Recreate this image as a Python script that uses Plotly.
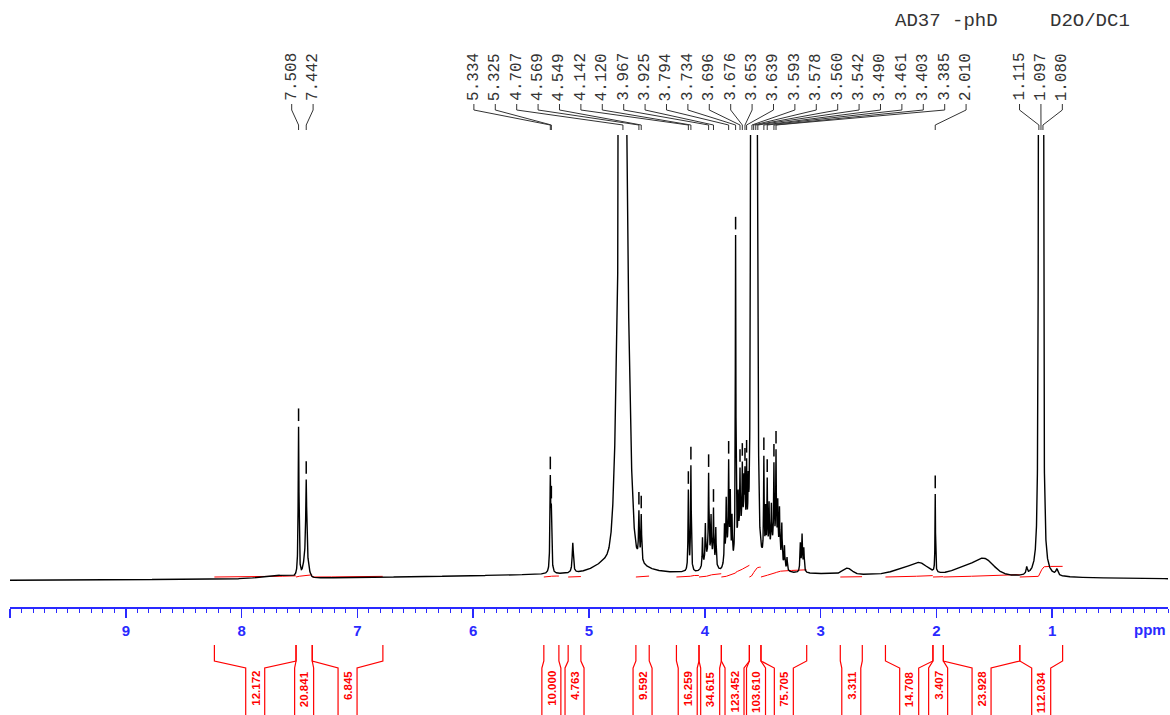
import numpy as np
import plotly.graph_objects as go

# ---------------- data ----------------
# sharp Lorentzian lines: position (ppm), height, half width (ppm)
line_ppm = [7.508, 7.442, 5.334, 5.325, 5.140, 4.707, 4.569, 4.549,
            4.142, 4.120, 4.020, 3.995, 3.967, 3.946, 3.925, 3.905,
            3.830, 3.815, 3.794, 3.780, 3.765, 3.734,
            3.712, 3.696, 3.676, 3.662, 3.653, 3.639, 3.625,
            3.603, 3.593, 3.586, 3.578, 3.569, 3.560, 3.551, 3.542,
            3.490, 3.475, 3.461, 3.445, 3.425, 3.403, 3.385, 3.370, 3.355, 3.335, 3.312, 3.290,
            3.175, 3.160, 3.145,
            2.010, 1.220, 1.115, 1.106, 1.097, 1.089, 1.080, 0.960]
line_height = [150, 80, 90, 55, 30, 2500, 46, 46,
               80, 105, 28, 35, 80, 38, 50, 36,
               34, 52, 85, 58, 40, 320,
               45, 60, 60, 45, 55, 68, 45,
               600, 1200, 1000, 1500, 1200, 1200, 800, 300,
               98, 45, 72, 45, 40, 78, 92, 45, 44, 36, 20, 12,
               28, 36, 23,
               78, 7, 1200, 700, 2200, 700, 1200, 6]
line_width = [0.004, 0.005, 0.004, 0.004, 0.006, 0.008, 0.004, 0.004,
              0.0035, 0.0035, 0.003, 0.003, 0.003, 0.003, 0.003, 0.003,
              0.003, 0.003, 0.003, 0.003, 0.003, 0.003,
              0.003, 0.003, 0.003, 0.003, 0.003, 0.003, 0.003,
              0.003, 0.003, 0.003, 0.003, 0.003, 0.003, 0.003, 0.003,
              0.003, 0.003, 0.003, 0.003, 0.003, 0.003, 0.003, 0.003, 0.003, 0.003, 0.003, 0.003,
              0.004, 0.004, 0.004,
              0.0025, 0.006, 0.003, 0.003, 0.003, 0.003, 0.003, 0.01]

# broad Gaussian components: centre (ppm), height, sigma (ppm)
broad_ppm = [7.70, 7.445, 4.707, 4.750, 3.960, 3.800, 3.680, 3.400, 2.770, 2.220, 2.140, 1.680, 1.580]
broad_height = [3, 18, 400, 12, 18, 22, 38, 26, 6, 8, 6, 11, 9]
broad_sigma = [0.12, 0.02, 0.04, 0.15, 0.04, 0.025, 0.035, 0.05, 0.04, 0.13, 0.06, 0.15, 0.07]

# rolling baseline: centre, height, half width
baseline_ppm = [4.0]
baseline_height = [9]
baseline_width = [3.0]

# picked peaks
peak_labels = ["7.508", "7.442",
               "5.334", "5.325", "4.707", "4.569", "4.549", "4.142", "4.120", "3.967",
               "3.925", "3.794", "3.734", "3.696", "3.676", "3.653", "3.639", "3.593",
               "3.578", "3.560", "3.542", "3.490", "3.461", "3.403", "3.385", "2.010",
               "1.115", "1.097", "1.080"]

# integrals
int_start = [8.235, 7.53, 7.39, 5.39, 5.18, 4.595, 4.245, 4.05, 3.857, 3.615, 3.515, 2.83, 2.44, 2.03, 1.94, 1.28]
int_end = [7.53, 7.39, 6.78, 5.26, 5.07, 4.48, 4.05, 3.857, 3.615, 3.515, 3.12, 2.64, 2.03, 1.94, 1.28, 0.91]
int_labels = ["12.172", "20.841", "6.845", "10.000", "4.763", "9.592", "16.259", "34.615",
              "123.452", "103.610", "75.705", "3.311", "14.708", "3.407", "23.928", "112.034"]

tick_vals = [1, 2, 3, 4, 5, 6, 7, 8, 9, 10]
tick_text = ["1", "2", "3", "4", "5", "6", "7", "8", "9", ""]

# ---------------- build spectrum ----------------
x = np.linspace(10, 0, 20001)


def spectrum(xx):
    yy = np.zeros_like(xx, dtype=float)
    for p, h, w in zip(baseline_ppm, baseline_height, baseline_width):
        yy += h / (1 + ((xx - p) / w) ** 2)
    for p, h, w in zip(line_ppm, line_height, line_width):
        yy += h / (1 + ((xx - p) / w) ** 2)
    for p, h, s in zip(broad_ppm, broad_height, broad_sigma):
        yy += h * np.exp(-0.5 * ((xx - p) / s) ** 2)
    return yy


y = spectrum(x)

# layout geometry (pixels)
W, H = 1170, 715
L, R, T, B = 10, 2, 135, 108
PW = W - L - R
PH = H - T - B
AX_Y = H - B            # pixel row of the axis line
PX_PER_PPM = PW / 10.0
YMIN, YMAX = -25, PH - 25


def py(pix):
    return (AX_Y - pix) / PH


def px(pix):
    return (pix - L) / PW


def spread(centers, gap):
    groups = [[i] for i in range(len(centers))]

    def positions(g):
        m = np.mean([centers[i] for i in g])
        n = len(g)
        return [m + (n - 1) / 2 * gap - k * gap for k in range(n)]

    changed = True
    while changed:
        changed = False
        for j in range(len(groups) - 1):
            pa, pb = positions(groups[j]), positions(groups[j + 1])
            if pa[-1] - pb[0] < gap - 1e-9:
                groups[j] = groups[j] + groups[j + 1]
                del groups[j + 1]
                changed = True
                break
    out = []
    for g in groups:
        out += positions(g)
    return out


fig = go.Figure()

# integral curves (rise from left to right inside each region)
int_base = 5.0
int_scale = 0.095
ix, iy = [], []
for a, b, lab in zip(int_start, int_end, int_labels):
    m = (x <= a) & (x >= b)
    xs = x[m]                 # descending ppm (left -> right)
    ys = y[m] - y[m].min()
    c = np.concatenate([[0], np.cumsum((ys[1:] + ys[:-1]) / 2 * np.abs(np.diff(xs)))])
    if c[-1] > 0:
        c = c / c[-1] * float(lab) * int_scale
    ix += list(np.round(xs[::4], 4)) + [None]
    iy += list(np.round(int_base + c[::4], 3)) + [None]

fig.add_trace(go.Scatter(x=ix, y=iy, mode="lines", line=dict(color="#ff0000", width=1),
                         hoverinfo="skip", showlegend=False))

fig.add_trace(go.Scatter(x=np.round(x, 5), y=np.round(y, 3), mode="lines",
                         line=dict(color="black", width=1.4), hoverinfo="skip", showlegend=False))

# peak pick marks
lab_ppm = [float(s) for s in peak_labels]
vals = spectrum(np.array(lab_ppm))
mk_x = [p for p, v in zip(lab_ppm, vals) if v < YMAX - 20]
mk_y = [v + 12 for v in vals if v < YMAX - 20]
fig.add_trace(go.Scatter(x=mk_x, y=mk_y, mode="markers",
                         marker=dict(symbol="line-ns", size=9, line=dict(width=1.5, color="black")),
                         hoverinfo="skip", showlegend=False))

shapes = []
annotations = []

# peak labels + connectors
lab_pos = spread(lab_ppm, 21.4 / PX_PER_PPM)
for txt, p, lp in zip(peak_labels, lab_ppm, lab_pos):
    path = "M {a},{y1} L {a},{y2} L {b},{y3} L {b},{y4}".format(
        a=lp, b=p, y1=py(104), y2=py(110), y3=py(125), y4=py(130))
    shapes.append(dict(type="path", path=path, xref="x", yref="paper",
                       line=dict(color="#333333", width=1)))
    annotations.append(dict(x=lp, y=py(103), xref="x", yref="paper", text=txt,
                            textangle=-90, showarrow=False, xanchor="center", yanchor="bottom",
                            font=dict(family="Liberation Mono", size=16, color="#333333")))

# integral brackets + labels
centers = [(a + b) / 2 for a, b in zip(int_start, int_end)]
ilab_pos = spread(centers, 21.5 / PX_PER_PPM)
half = 9.5 / PX_PER_PPM
for a, b, lab, c in zip(int_start, int_end, int_labels, ilab_pos):
    for edge, side in ((a, c + half), (b, c - half)):
        path = "M {e},{y1} L {e},{y2} L {s},{y3} L {s},{y4}".format(
            e=edge, s=side, y1=py(645), y2=py(661), y3=py(668), y4=py(720))
        shapes.append(dict(type="path", path=path, xref="x", yref="paper",
                           line=dict(color="#ff0000", width=1.2)))
    annotations.append(dict(x=c, y=py(669), xref="x", yref="paper", text=lab,
                            textangle=-90, showarrow=False, xanchor="center", yanchor="top",
                            font=dict(family="Liberation Sans", size=11.5, color="#ff0000",
                                      weight="bold")))

# title and unit
annotations.append(dict(x=px(893), y=py(21), xref="paper", yref="paper", text="AD37 -phD",
                        showarrow=False, xanchor="left", yanchor="middle",
                        font=dict(family="Liberation Mono", size=19, color="#333333")))
annotations.append(dict(x=px(1048), y=py(21), xref="paper", yref="paper", text="D2O/DC1",
                        showarrow=False, xanchor="left", yanchor="middle",
                        font=dict(family="Liberation Mono", size=19, color="#333333")))
annotations.append(dict(x=px(1150), y=py(629), xref="paper", yref="paper", text="ppm",
                        showarrow=False, xanchor="center", yanchor="middle",
                        font=dict(family="Liberation Sans", size=15, color="#2a2aff", weight="bold")))

blue = "#2a2aff"
fig.update_layout(
    width=W, height=H,
    margin=dict(l=L, r=R, t=T, b=B, pad=0),
    paper_bgcolor="white", plot_bgcolor="white",
    shapes=shapes, annotations=annotations,
    showlegend=False,
    xaxis=dict(range=[10, 0], showgrid=False, zeroline=False, showline=True,
               linecolor=blue, linewidth=1.5, ticks="outside", ticklen=9, tickwidth=1.5,
               tickcolor=blue, tickvals=tick_vals, ticktext=tick_text,
               tickfont=dict(family="Liberation Sans", size=15, color=blue, weight="bold"),
               minor=dict(dtick=0.1, tick0=0, ticklen=4, tickwidth=1, tickcolor=blue, ticks="outside")),
    yaxis=dict(range=[YMIN, YMAX], visible=False, showgrid=False, zeroline=False),
)

fig.write_html("out.html", config={"displayModeBar": False, "staticPlot": True},
               post_script="document.body.style.margin='0';document.body.style.overflow='hidden';")
